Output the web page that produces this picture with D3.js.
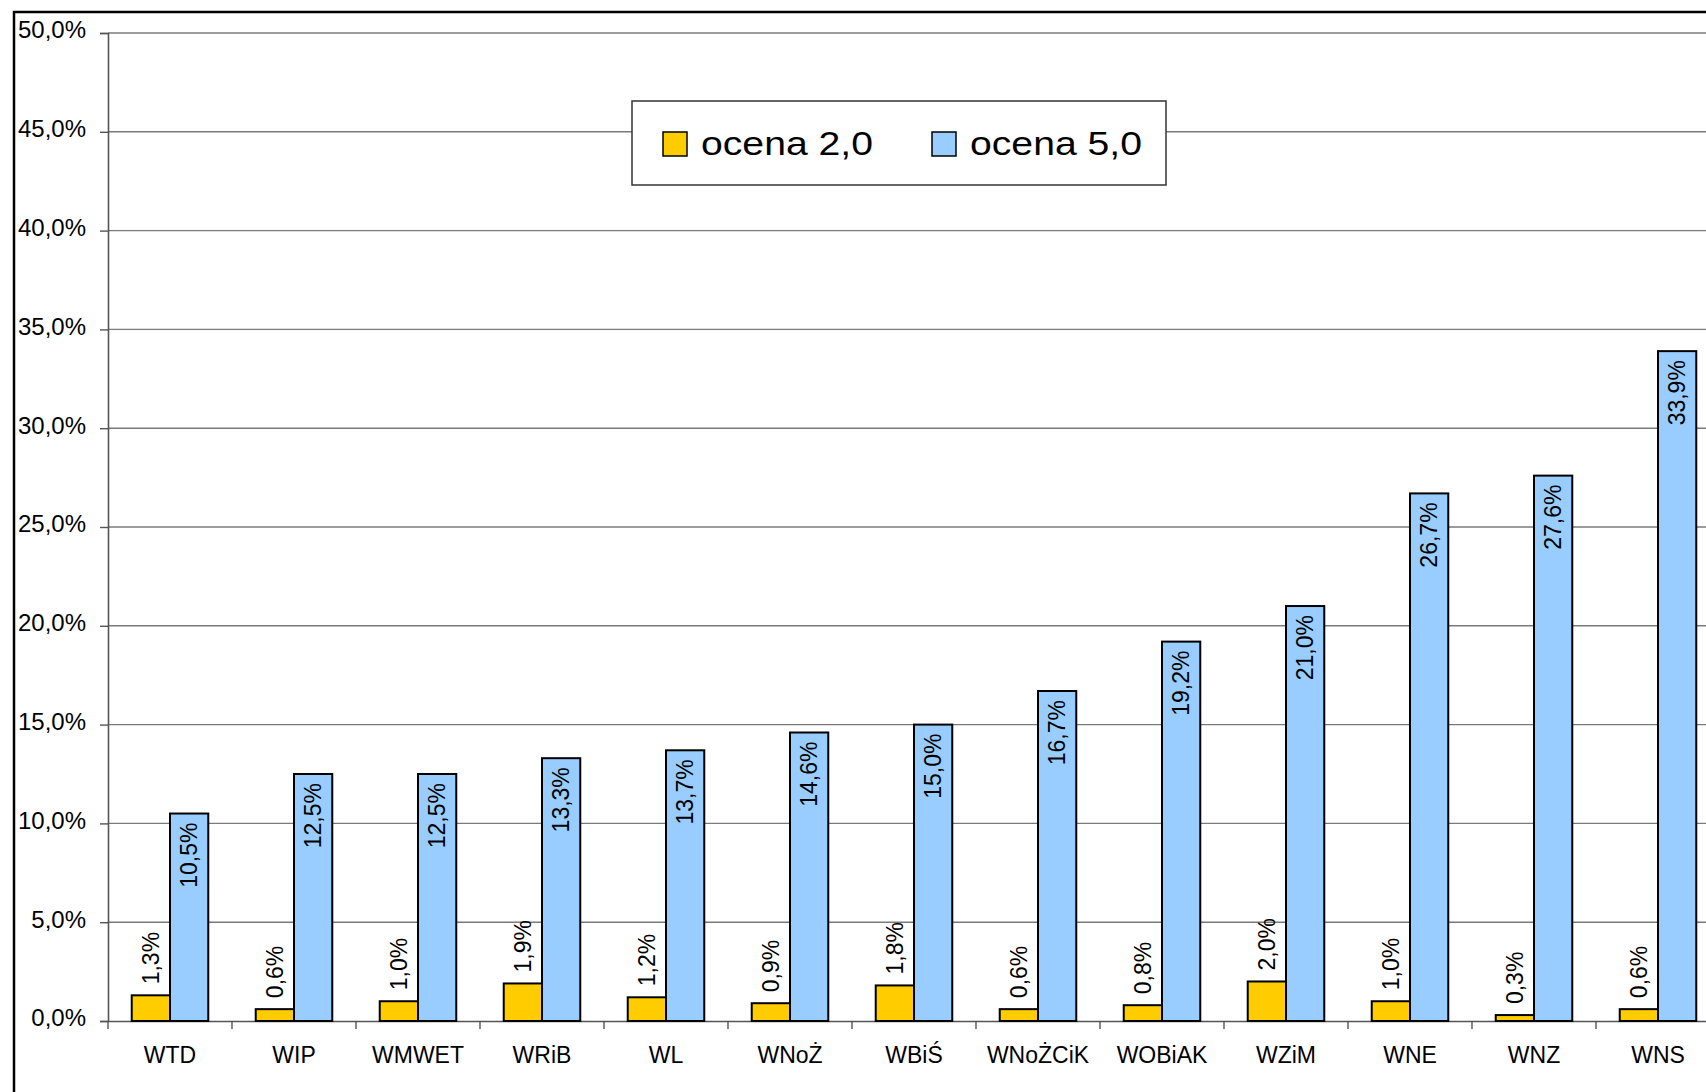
<!DOCTYPE html>
<html>
<head>
<meta charset="utf-8">
<script src="https://cdn.jsdelivr.net/npm/d3@7"></script>
<style>
  body { margin: 0; background: #fff; }
  text { font-family: Arial, "Liberation Sans", sans-serif; fill: #000; }
</style>
</head>
<body>
<div class="chart"></div>
<script>
// data
var categories = ["WTD", "WIP", "WMWET", "WRiB", "WL", "WNoŻ", "WBiŚ", "WNoŻCiK", "WOBiAK", "WZiM", "WNE", "WNZ", "WNS"];
var ocena2 = [1.3, 0.6, 1.0, 1.9, 1.2, 0.9, 1.8, 0.6, 0.8, 2.0, 1.0, 0.3, 0.6];
var ocena5 = [10.5, 12.5, 12.5, 13.3, 13.7, 14.6, 15.0, 16.7, 19.2, 21.0, 26.7, 27.6, 33.9];
var seriesNames = ["ocena 2,0", "ocena 5,0"];
var yTicks = [0, 5, 10, 15, 20, 25, 30, 35, 40, 45, 50];

var svgWidth = 1706;
var svgHeight = 1092;

var colors = ["#FFCC00", "#99CCFF"];

var svg = d3.select(".chart")
  .append("svg")
  .attr("width", svgWidth)
  .attr("height", svgHeight);

// chart area border (cut off on the right and bottom)
svg.append("rect")
  .attr("x", 14)
  .attr("y", 12)
  .attr("width", 2000)
  .attr("height", 2000)
  .attr("fill", "#fff")
  .attr("stroke", "#000")
  .attr("stroke-width", 2.5);

// plot area: axis at x=108, one category every 124px, so it runs past the window
var plotLeft = 108;
var step = 124;
var xScale = d3.scaleBand()
  .domain(categories)
  .range([plotLeft, plotLeft + step * categories.length])
  .padding(0);

var xInner = d3.scaleBand()
  .domain([0, 1])
  .range([0, xScale.bandwidth()])
  .paddingInner(0)
  .paddingOuter(0.62);

var yScale = d3.scaleLinear()
  .domain([0, 50])
  .range([1021, 33]);

var fmt = function(v) { return d3.format(".1f")(v).replace(".", ",") + "%"; };

// gridlines
svg.append("g")
  .selectAll("line")
  .data(yTicks.slice(1))
  .enter()
  .append("line")
  .attr("x1", plotLeft)
  .attr("x2", svgWidth)
  .attr("y1", d => yScale(d))
  .attr("y2", d => yScale(d))
  .attr("stroke", "#7a7a7a")
  .attr("stroke-width", 1.4);

// y axis
var leftAxis = d3.axisLeft(yScale)
  .tickValues(yTicks)
  .tickSize(8)
  .tickPadding(14)
  .tickFormat(fmt);

var yAxis = svg.append("g")
  .attr("transform", `translate(${plotLeft}, 0)`)
  .call(leftAxis);

yAxis.select(".domain").attr("stroke", "#555").attr("stroke-width", 1.6);
yAxis.selectAll(".tick line").attr("stroke", "#555").attr("stroke-width", 1.4);
yAxis.selectAll(".tick text")
  .attr("font-size", "24px")
  .attr("dy", "0.2em")
  .attr("fill", "#000");

// x axis
var bottomAxis = d3.axisBottom(xScale)
  .tickSize(0)
  .tickPadding(26)
  .tickFormat(d => d);

var xAxis = svg.append("g")
  .attr("transform", `translate(0, ${yScale(0)})`)
  .call(bottomAxis);

xAxis.select(".domain").attr("stroke", "#555").attr("stroke-width", 1.6);
xAxis.selectAll(".tick text")
  .attr("font-size", "23px")
  .attr("fill", "#000");

// category separator ticks
svg.append("g")
  .selectAll("line")
  .data(d3.range(categories.length + 1))
  .enter()
  .append("line")
  .attr("x1", i => plotLeft + i * step)
  .attr("x2", i => plotLeft + i * step)
  .attr("y1", yScale(0))
  .attr("y2", yScale(0) + 8)
  .attr("stroke", "#555")
  .attr("stroke-width", 1.4);

// bars
var rows = categories.map(function(c, i) {
  return { cat: c, values: [ocena2[i], ocena5[i]] };
});

var groups = svg.append("g")
  .selectAll("g")
  .data(rows)
  .enter()
  .append("g")
  .attr("transform", d => `translate(${xScale(d.cat)}, 0)`);

groups.selectAll("rect")
  .data(d => d.values.map((v, s) => ({ s: s, v: v })))
  .enter()
  .append("rect")
  .attr("x", d => xInner(d.s))
  .attr("width", xInner.bandwidth())
  .attr("y", d => yScale(d.v))
  .attr("height", d => yScale(0) - yScale(d.v))
  .attr("fill", d => colors[d.s])
  .attr("stroke", "#000")
  .attr("stroke-width", 2);

// data labels, rotated: yellow above the bar, blue inside the top
groups.selectAll("text.lbl")
  .data(d => d.values.map((v, s) => ({ s: s, v: v })))
  .enter()
  .append("text")
  .attr("class", "lbl")
  .attr("font-size", "23px")
  .attr("dominant-baseline", "central")
  .attr("text-anchor", d => d.s === 0 ? "start" : "end")
  .attr("transform", function(d) {
    var cx = xInner(d.s) + xInner.bandwidth() / 2;
    var cy = d.s === 0 ? yScale(d.v) - 11 : yScale(d.v) + 9;
    return `translate(${cx}, ${cy}) rotate(-90)`;
  })
  .text(d => fmt(d.v));

// legend
var legend = svg.append("g");

legend.append("rect")
  .attr("x", 632)
  .attr("y", 101)
  .attr("width", 534)
  .attr("height", 84)
  .attr("fill", "#fff")
  .attr("stroke", "#333")
  .attr("stroke-width", 1.5);

var legendX = [663, 932];

var items = legend.selectAll("g")
  .data(seriesNames)
  .enter()
  .append("g")
  .attr("transform", (d, i) => `translate(${legendX[i]}, 132)`);

items.append("rect")
  .attr("width", 24)
  .attr("height", 24)
  .attr("fill", (d, i) => colors[i])
  .attr("stroke", "#000")
  .attr("stroke-width", 1.5);

items.append("text")
  .attr("x", 38)
  .attr("y", 23)
  .attr("font-size", "33px")
  .attr("textLength", 172)
  .attr("lengthAdjust", "spacingAndGlyphs")
  .text(d => d);
</script>
</body>
</html>
